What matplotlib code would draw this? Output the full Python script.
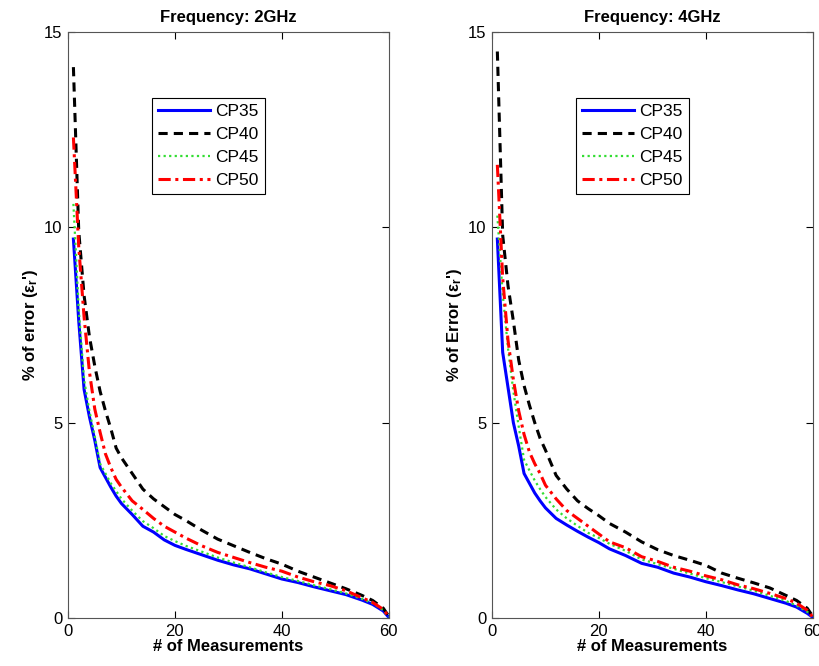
import matplotlib
matplotlib.use('Agg')
import matplotlib.pyplot as plt

plt.rcParams['font.family'] = ['Liberation Sans', 'DejaVu Sans']
plt.rcParams['mathtext.fontset'] = 'custom'
plt.rcParams['mathtext.rm'] = 'Liberation Sans'
plt.rcParams['mathtext.it'] = 'Liberation Sans:italic'
plt.rcParams['mathtext.bf'] = 'Liberation Sans:bold'

# numero de medicoes (eixo x)
n_meas = [1, 2, 3, 4, 5, 6, 7, 8, 9, 10, 12, 14, 16, 18, 20, 22, 25, 28, 31, 34,
          37, 40, 43, 46, 49, 52, 55, 57, 59, 60]

# 2 GHz
cp35_2g = [9.7, 7.6, 5.85, 5.15, 4.55, 3.85, 3.6, 3.35, 3.12, 2.93, 2.65, 2.35, 2.2, 2.0, 1.86,
           1.76, 1.62, 1.48, 1.36, 1.26, 1.13, 1.0, 0.91, 0.8, 0.7, 0.6, 0.46, 0.35, 0.18, 0.02]
cp40_2g = [14.1, 9.9, 8.25, 7.2, 6.45, 5.8, 5.3, 4.85, 4.35, 4.1, 3.7, 3.3, 3.05, 2.85, 2.65,
           2.5, 2.25, 2.02, 1.85, 1.68, 1.52, 1.38, 1.2, 1.05, 0.9, 0.75, 0.58, 0.45, 0.25, 0.05]
cp45_2g = [10.6, 7.9, 6.1, 5.3, 4.65, 3.95, 3.7, 3.45, 3.25, 3.05, 2.75, 2.48, 2.3, 2.1, 1.97,
           1.85, 1.7, 1.55, 1.42, 1.3, 1.17, 1.05, 0.95, 0.84, 0.74, 0.63, 0.49, 0.38, 0.2, 0.03]
cp50_2g = [12.3, 9.5, 7.7, 6.3, 5.35, 4.75, 4.2, 3.85, 3.55, 3.35, 3.0, 2.78, 2.55, 2.35, 2.2,
           2.05, 1.85, 1.68, 1.55, 1.42, 1.3, 1.2, 1.05, 0.93, 0.83, 0.7, 0.52, 0.4, 0.22, 0.04]

# 4 GHz
cp35_4g = [9.7, 6.8, 5.9, 5.0, 4.4, 3.7, 3.45, 3.2, 3.0, 2.82, 2.55, 2.38, 2.22, 2.07, 1.93,
           1.77, 1.6, 1.4, 1.3, 1.15, 1.05, 0.93, 0.83, 0.72, 0.62, 0.5, 0.38, 0.28, 0.12, 0.02]
cp40_4g = [14.5, 9.8, 8.5, 7.6, 6.6, 5.95, 5.45, 5.0, 4.6, 4.3, 3.65, 3.3, 3.0, 2.8, 2.62,
           2.42, 2.2, 1.95, 1.75, 1.6, 1.48, 1.35, 1.15, 1.02, 0.9, 0.77, 0.58, 0.45, 0.25, 0.05]
cp45_4g = [10.3, 8.3, 6.9, 5.8, 4.9, 4.05, 3.78, 3.52, 3.3, 3.1, 2.78, 2.55, 2.36, 2.18, 2.05,
           1.9, 1.72, 1.5, 1.38, 1.26, 1.14, 1.02, 0.92, 0.81, 0.7, 0.57, 0.44, 0.32, 0.16, 0.03]
cp50_4g = [11.6, 8.7, 7.1, 6.1, 5.3, 4.7, 4.25, 3.95, 3.7, 3.4, 3.05, 2.75, 2.55, 2.35, 2.15,
           1.95, 1.8, 1.57, 1.45, 1.3, 1.2, 1.08, 0.98, 0.85, 0.75, 0.63, 0.5, 0.38, 0.2, 0.03]

labels = ['CP35', 'CP40', 'CP45', 'CP50']
estilos = [dict(color='#0000ff', ls='-', lw=2.2),
           dict(color='black', ls=(0, (3, 2)), lw=2.2),
           dict(color='#33dd33', ls=(0, (1, 1.5)), lw=1.6),
           dict(color='#ff0000', ls=(0, (4, 1.5, 1, 1.5)), lw=2.2)]

fig = plt.figure(figsize=(8.2, 6.66), dpi=100)
ax1 = fig.add_axes([0.083, 0.072, 0.391, 0.88])
ax2 = fig.add_axes([0.600, 0.072, 0.391, 0.88])

paineis = [(ax1, [cp35_2g, cp40_2g, cp45_2g, cp50_2g], 'Frequency: 2GHz', 'error'),
           (ax2, [cp35_4g, cp40_4g, cp45_4g, cp50_4g], 'Frequency: 4GHz', 'Error')]

for ax, series, titulo, palavra in paineis:
    for y, lab, st in zip(series, labels, estilos):
        ax.plot(n_meas, y, label=lab, **st)
    ax.set_xlim(0, 60)
    ax.set_ylim(0, 15)
    ax.set_xticks([0, 20, 40, 60])
    ax.set_yticks([0, 5, 10, 15])
    ax.tick_params(direction='in', top=True, right=True, labelsize=12, length=5, pad=4)
    for sp in ax.spines.values():
        sp.set_color('#555555')
    ax.set_title(titulo, fontsize=12, fontweight='bold', pad=7)
    ax.set_xlabel('# of Measurements', fontsize=12, fontweight='bold', labelpad=0)
    ax.set_ylabel('% of ' + palavra + r" ($\mathbf{\varepsilon_r}$')", fontsize=12,
                  fontweight='bold', labelpad=3)
    leg = ax.legend(loc='upper left', bbox_to_anchor=(0.262, 0.887), fontsize=12.5,
                    fancybox=False, framealpha=1, edgecolor='black', handlelength=3.0,
                    handletextpad=0.3, borderpad=0.35, labelspacing=0.45, borderaxespad=0)
    leg.get_frame().set_linewidth(0.8)

fig.savefig('out.png', dpi=100)
